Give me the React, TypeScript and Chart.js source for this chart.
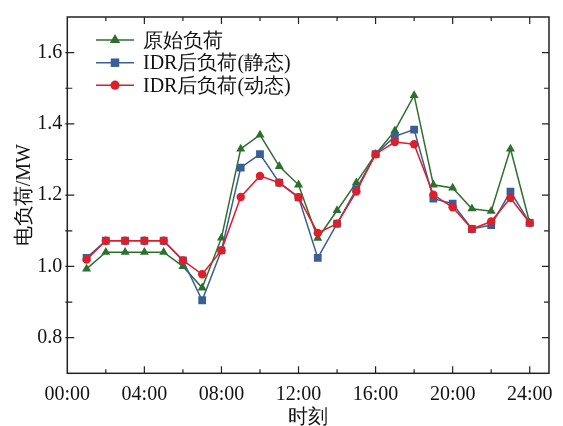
import React, { useEffect, useRef } from 'react';
import { Chart, registerables } from 'chart.js';

Chart.register(...registerables);

const hours = [1, 2, 3, 4, 5, 6, 7, 8, 9, 10, 11, 12, 13, 14, 15, 16, 17, 18, 19, 20, 21, 22, 23, 24];
const originalLoad = [0.993, 1.04, 1.04, 1.04, 1.04, 1.0, 0.94, 1.08, 1.33, 1.369, 1.281, 1.229, 1.079, 1.157, 1.235, 1.315, 1.381, 1.48, 1.229, 1.22, 1.162, 1.155, 1.33, 1.122];
const staticLoad = [1.024, 1.072, 1.072, 1.072, 1.072, 1.017, 0.905, 1.045, 1.277, 1.315, 1.235, 1.194, 1.024, 1.12, 1.217, 1.315, 1.365, 1.384, 1.19, 1.176, 1.105, 1.116, 1.21, 1.122];
const dynamicLoad = [1.019, 1.072, 1.072, 1.072, 1.072, 1.017, 0.978, 1.045, 1.195, 1.254, 1.235, 1.194, 1.094, 1.12, 1.21, 1.315, 1.349, 1.343, 1.201, 1.166, 1.105, 1.126, 1.192, 1.122];
const seriesNames = ['原始负荷', 'IDR后负荷(静态)', 'IDR后负荷(动态)'];
const xTickValues = [0, 4, 8, 12, 16, 20, 24];
const xTickLabels = ['00:00', '04:00', '08:00', '12:00', '16:00', '20:00', '24:00'];
const yTickValues = [0.8, 1.0, 1.2, 1.4, 1.6];

const GREEN = '#2e6f2e';
const BLUE = '#3b5e97';
const RED = '#db1f2b';
const FONT = "'Liberation Serif'";

function drawMarker(ctx: CanvasRenderingContext2D, style: string, x: number, y: number, r: number, color: string) {
  ctx.save();
  ctx.fillStyle = color;
  ctx.beginPath();
  if (style === 'triangle') {
    const s = r * Math.sqrt(3) / 2;
    ctx.moveTo(x, y - r);
    ctx.lineTo(x + s, y + r / 2);
    ctx.lineTo(x - s, y + r / 2);
    ctx.closePath();
  } else if (style === 'rect') {
    const s = Math.SQRT1_2 * r;
    ctx.rect(x - s, y - s, 2 * s, 2 * s);
  } else {
    ctx.arc(x, y, r, 0, Math.PI * 2);
  }
  ctx.fill();
  ctx.restore();
}

const framePlugin = {
  id: 'framePlugin',
  beforeDatasetsDraw(chart: any) {
    const { ctx, chartArea: a, scales } = chart;
    const xs = scales.x;
    const ys = scales.y;
    ctx.save();
    ctx.strokeStyle = '#222';
    ctx.lineWidth = 1.5;
    ctx.strokeRect(a.left, a.top, a.right - a.left, a.bottom - a.top);
    ctx.lineWidth = 1.2;
    ctx.beginPath();
    for (let h = 2; h <= 24; h += 2) {
      const px = xs.getPixelForValue(h);
      const len = h % 4 === 0 ? 7 : 4;
      ctx.moveTo(px, a.bottom);
      ctx.lineTo(px, a.bottom - len);
      ctx.moveTo(px, a.top);
      ctx.lineTo(px, a.top + len);
    }
    for (let k = 8; k <= 16; k++) {
      const py = ys.getPixelForValue(k / 10);
      const len = k % 2 === 0 ? 7 : 5;
      ctx.moveTo(a.left - 2, py);
      ctx.lineTo(a.left + len, py);
      ctx.moveTo(a.right, py);
      ctx.lineTo(a.right - len, py);
    }
    ctx.stroke();
    ctx.restore();
  },
  afterDraw(chart: any) {
    const { ctx } = chart;
    const rows = [40, 62.7, 85.2];
    const colors = [GREEN, BLUE, RED];
    const styles = ['triangle', 'rect', 'circle'];
    const radii = [6, 6, 4.6];
    ctx.save();
    for (let i = 0; i < 3; i++) {
      const y = rows[i];
      ctx.strokeStyle = colors[i];
      ctx.lineWidth = 1.5;
      ctx.beginPath();
      ctx.moveTo(96, y);
      ctx.lineTo(134, y);
      ctx.stroke();
      drawMarker(ctx, styles[i], 115, y, radii[i], colors[i]);
      ctx.fillStyle = '#111';
      ctx.font = `20px ${FONT}`;
      ctx.textBaseline = 'middle';
      ctx.textAlign = 'left';
      ctx.fillText(seriesNames[i], 143, y + 1.5);
    }
    ctx.restore();
  },
};

export default function App() {
  const ref = useRef<HTMLCanvasElement | null>(null);
  useEffect(() => {
    if (!ref.current) return;
    const mk = (vals: number[]) => hours.map((h, i) => ({ x: h, y: vals[i] }));
    const chart = new Chart(ref.current, {
      type: 'line',
      data: {
        datasets: [
          {
            label: seriesNames[0],
            data: mk(originalLoad),
            borderColor: GREEN,
            backgroundColor: GREEN,
            pointStyle: 'triangle',
            pointRadius: 5.2,
            borderWidth: 1.5,
            pointBorderWidth: 0,
            order: 3,
          },
          {
            label: seriesNames[1],
            data: mk(staticLoad),
            borderColor: BLUE,
            backgroundColor: BLUE,
            pointStyle: 'rect',
            pointRadius: 5.5,
            borderWidth: 1.5,
            pointBorderWidth: 0,
            order: 2,
          },
          {
            label: seriesNames[2],
            data: mk(dynamicLoad),
            borderColor: RED,
            backgroundColor: RED,
            pointStyle: 'circle',
            pointRadius: 4.2,
            borderWidth: 1.5,
            pointBorderWidth: 0,
            order: 1,
          },
        ],
      },
      options: {
        responsive: false,
        animation: false,
        font: { family: FONT },
        layout: { padding: { top: 9.5, right: 14, left: 0, bottom: 0 } },
        plugins: { legend: { display: false }, tooltip: { enabled: false } },
        elements: { line: { tension: 0 } },
        scales: {
          x: {
            type: 'linear',
            min: 0,
            max: 25,
            grid: { display: false, drawTicks: false },
            border: { display: false },
            afterBuildTicks: (s: any) => { s.ticks = xTickValues.map((v) => ({ value: v })); },
            afterFit: (s: any) => { s.height = 52.7; },
            ticks: {
              autoSkip: false,
              maxRotation: 0,
              padding: 9,
              color: '#111',
              font: { family: FONT, size: 20 },
              callback: (v: any) => {
                const idx = xTickValues.indexOf(Number(v));
                return idx >= 0 ? xTickLabels[idx] : '';
              },
            },
            title: {
              display: true,
              text: '时刻',
              color: '#111',
              font: { family: FONT, size: 20, lineHeight: 0.8 },
              padding: { top: 0, bottom: 0 },
            },
          },
          y: {
            min: 0.7,
            max: 1.7,
            grid: { display: false, drawTicks: false },
            border: { display: false },
            afterBuildTicks: (s: any) => { s.ticks = yTickValues.map((v) => ({ value: v })); },
            afterFit: (s: any) => { s.width = 67.3; },
            ticks: {
              autoSkip: false,
              padding: 5,
              color: '#111',
              font: { family: FONT, size: 20 },
              callback: (v: any) => Number(v).toFixed(1),
            },
            title: {
              display: true,
              text: '电负荷/MW',
              color: '#111',
              font: { family: FONT, size: 20, lineHeight: 1.2 },
              padding: { top: 13, bottom: 0 },
            },
          },
        },
      },
      plugins: [framePlugin],
    });
    return () => chart.destroy();
  }, []);
  return (
    <div style={{ position: 'absolute', left: 0, top: 0, width: 563, height: 426, background: '#fff' }}>
      <canvas ref={ref} width={563} height={426} />
    </div>
  );
}
